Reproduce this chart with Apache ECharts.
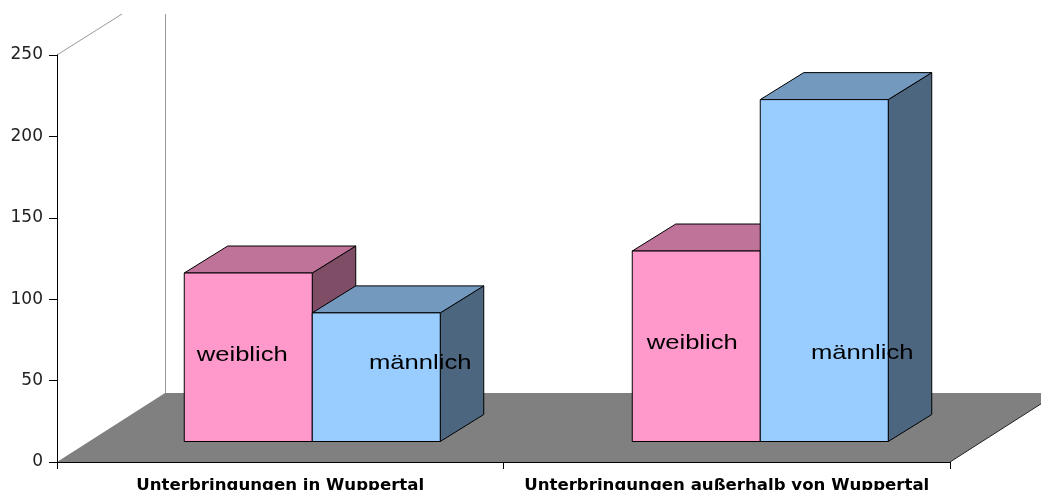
<!DOCTYPE html>
<html>
<head>
<meta charset="utf-8">
<title>Unterbringungen</title>
<style>
  html, body { margin: 0; padding: 0; background: #fff; }
  #chart { width: 1041px; height: 490px; }
</style>
<script src="https://cdn.jsdelivr.net/npm/echarts@6/dist/echarts.min.js"></script>
</head>
<body>
<div id="chart"></div>
<script>
const categories = ['Unterbringungen in Wuppertal', 'Unterbringungen außerhalb von Wuppertal'];
const weiblich = [103.5, 117];
const maennlich = [79, 210];
const seriesNames = ['weiblich', 'männlich'];
const yTicks = { min: 0, max: 250, interval: 50 };

// 3d look, all in px
const DEPTH_X = 43.5, DEPTH_Y = 27;
const PLANE_X = [32, 33.5], PLANE_Y = 20.5;
const FLOOR_X = 108, FLOOR_Y = 69;
const BAR_W = 128;

// excel put the labels by hand, [dx from bar centre, dy from front base]
const labelPos = {
  weiblich: [[-6, -86], [-4, -98]],
  'männlich': [[44, -78], [38, -88]]
};

const colors = {
  weiblich: { front: '#FF99CC', top: '#BF7399', side: '#804D66' },
  'männlich': { front: '#99CCFF', top: '#7399BF', side: '#4D6680' }
};

function poly(points, fill) {
  return {
    type: 'polygon',
    shape: { points: points },
    style: { fill: fill, stroke: '#000', lineWidth: 1 }
  };
}

function renderBar(name, side) {
  return function (params, api) {
    const cat = api.value(0);
    const base = api.coord([cat, 0]);
    const top = api.coord([cat, api.value(1)]);
    const c = colors[name];
    const x0 = base[0] + PLANE_X[cat] + (side < 0 ? -BAR_W : 0);
    const x1 = x0 + BAR_W;
    const y0 = base[1] - PLANE_Y;
    const y1 = top[1] - PLANE_Y;
    const lp = labelPos[name][cat];
    return {
      type: 'group',
      children: [
        poly([[x1, y0], [x1 + DEPTH_X, y0 - DEPTH_Y], [x1 + DEPTH_X, y1 - DEPTH_Y], [x1, y1]], c.side),
        poly([[x0, y1], [x0 + DEPTH_X, y1 - DEPTH_Y], [x1 + DEPTH_X, y1 - DEPTH_Y], [x1, y1]], c.top),
        poly([[x0, y0], [x1, y0], [x1, y1], [x0, y1]], c.front),
        {
          type: 'text',
          x: (x0 + x1) / 2 + lp[0],
          y: y0 + lp[1],
          scaleX: 1.22,
          style: {
            text: name,
            fill: '#000',
            font: '21px "Liberation Sans"',
            align: 'center',
            verticalAlign: 'middle'
          }
        }
      ]
    };
  };
}

function renderFloor(params, api) {
  const cs = params.coordSys;
  const x0 = cs.x, x1 = cs.x + cs.width, y0 = cs.y + cs.height;
  const backY = y0 - FLOOR_Y;
  const wall = { stroke: '#999', lineWidth: 1 };
  return {
    type: 'group',
    children: [
      {
        type: 'polygon',
        shape: { points: [[x0, y0], [x1, y0], [x1 + FLOOR_X, backY], [x0 + FLOOR_X, backY]] },
        style: { fill: '#808080' }
      },
      { type: 'line', shape: { x1: x1, y1: y0, x2: x1 + FLOOR_X, y2: backY }, style: { stroke: '#222', lineWidth: 1 } },
      { type: 'line', shape: { x1: x0 + FLOOR_X + 0.5, y1: backY, x2: x0 + FLOOR_X + 0.5, y2: 14 }, style: wall },
      { type: 'line', shape: { x1: x0, y1: cs.y, x2: x0 + 65, y2: 14 }, style: wall }
    ]
  };
}

const chart = echarts.init(document.getElementById('chart'), null, { renderer: 'canvas' });

chart.setOption({
  animation: false,
  backgroundColor: '#fff',
  grid: { left: 57, right: 91, top: 55, bottom: 28, outerBoundsMode: 'none' },
  xAxis: {
    type: 'category',
    data: categories,
    axisLine: { show: true, lineStyle: { color: '#000' } },
    axisTick: { show: true, length: 7, lineStyle: { color: '#000' } },
    axisLabel: {
      color: '#000',
      fontFamily: 'DejaVu Sans',
      fontSize: 16.6,
      fontWeight: 'bold',
      margin: 15,
      interval: 0
    }
  },
  yAxis: {
    type: 'value',
    min: yTicks.min,
    max: yTicks.max,
    interval: yTicks.interval,
    splitLine: { show: false },
    axisLine: { show: true, lineStyle: { color: '#000' } },
    axisTick: { show: true, length: 8, lineStyle: { color: '#000' } },
    axisLabel: { color: '#222', fontFamily: 'DejaVu Sans', fontSize: 17, margin: 14, padding: [2, 0, 0, 0] }
  },
  series: [
    {
      type: 'custom',
      name: 'floor',
      z: -1,
      silent: true,
      renderItem: renderFloor,
      data: [[0, 0]]
    },
    {
      type: 'custom',
      name: seriesNames[0],
      renderItem: renderBar(seriesNames[0], -1),
      encode: { x: 0, y: 1 },
      data: weiblich.map((v, i) => [i, v])
    },
    {
      type: 'custom',
      name: seriesNames[1],
      renderItem: renderBar(seriesNames[1], 1),
      encode: { x: 0, y: 1 },
      data: maennlich.map((v, i) => [i, v])
    }
  ]
});
</script>
</body>
</html>
